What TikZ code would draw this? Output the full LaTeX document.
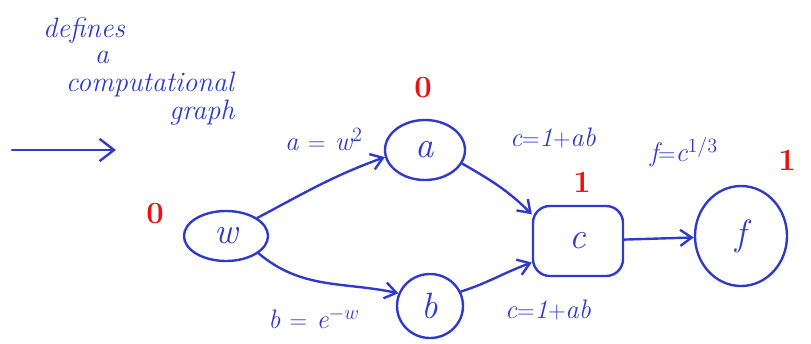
\documentclass[tikz,border=0pt]{standalone}
\usetikzlibrary{shapes.geometric,arrows.meta}
\definecolor{ink}{RGB}{48,58,200}
\definecolor{mark}{RGB}{232,18,18}
\begin{document}
\begin{tikzpicture}[x=0.025cm,y=-0.025cm,
  pen/.style={draw=ink,line width=1.7pt,line cap=round,line join=round},
  vert/.style={pen,ellipse,inner sep=0pt,text=ink,font=\fontsize{26}{28}\selectfont\itshape},
  boxvert/.style={pen,rectangle,rounded corners=12pt,inner sep=0pt,text=ink,font=\fontsize{26}{28}\selectfont\itshape},
  edge/.style={pen,-{Straight Barb[angle=70:10pt,line width=1.7pt]}},
  elabel/.style={text=ink,inner sep=0pt,font=\fontsize{19}{21}\selectfont\itshape},
  valmark/.style={text=mark,font=\fontsize{22}{24}\selectfont\bfseries},
  note/.style={text=ink,inner sep=0pt,font=\fontsize{20}{22}\selectfont\itshape}]
\useasboundingbox (0,0) rectangle (811,343);

% caption and pointer
\node[note] (t1) at (84,30) {defines};
\node[note] (t2) at (102,57) {a};
\node[note] (t3) at (150,84) {computational};
\node[note] (t4) at (202,113) {graph};
\coordinate (p0) at (12,150);
\coordinate (p1) at (116,150);
\draw[pen,-{Straight Barb[angle=75:13pt,line width=1.7pt]}] (p0) -- (p1);

% vertices
\node[vert,minimum width=2.1cm,minimum height=1.25cm] (w) at (226,236) {w};
\node[vert,minimum width=2.0cm,minimum height=1.5cm] (a) at (425,150) {a};
\node[vert,minimum width=1.65cm,minimum height=1.6cm] (b) at (430,306) {b};
\node[boxvert,minimum width=2.25cm,minimum height=1.75cm] (c) at (578,241) {c};
\node[vert,minimum width=2.3cm,minimum height=2.5cm] (f) at (741,236) {f};

% values
\node[valmark] (vw) at (155,214) {0};
\node[valmark] (va) at (423,88) {0};
\node[valmark] (vc) at (582,182) {1};
\node[valmark] (vf) at (787,160) {1};

% connectors
\draw[edge] (w.30) to[out=28,in=200] (a.190);
\draw[edge] (w.-28) to[out=-40,in=168] (b.158);
\draw[edge] (a.-20) to[out=-30,in=135] (c.150);
\draw[edge] (b.25) to[out=18,in=200] (c.-155);
\draw[edge] (c) to (f);

% formulas
\node[elabel] (la) at (324,140) {a $=$ w$^2$};
\node[elabel] (lc1) at (553,138) {c$=$1$+$ab};
\node[elabel] (lf) at (684,152) {f$=$c$^{1/3}$};
\node[elabel] (lb) at (314,318) {b $=$ e$^{-w}$};
\node[elabel] (lc2) at (548,310) {c$=$1$+$ab};
\end{tikzpicture}
\end{document}
